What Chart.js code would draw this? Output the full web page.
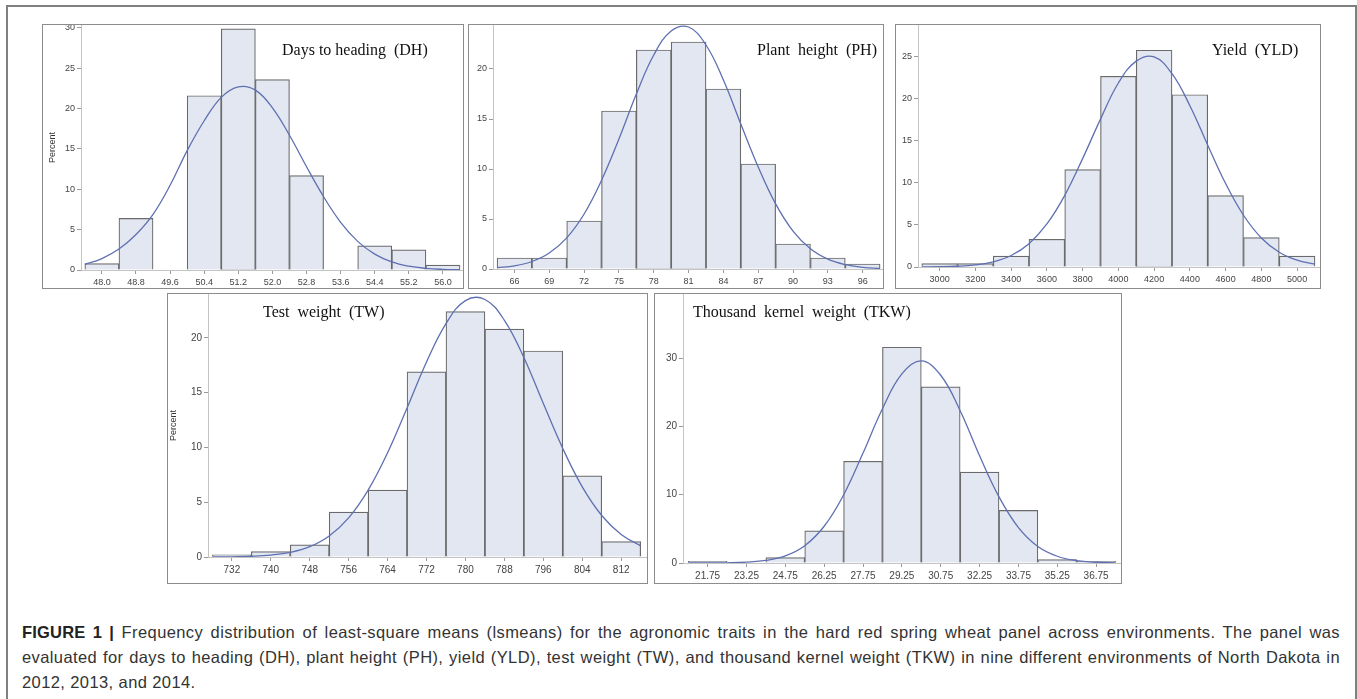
<!DOCTYPE html>
<html>
<head>
<meta charset="utf-8">
<script src="https://cdn.jsdelivr.net/npm/chart.js@4.4.0/dist/chart.umd.min.js"></script>
<style>
  body { margin: 0; width: 1357px; height: 699px; overflow: hidden; position: relative; background: #fff; font-family: "Liberation Sans", Arial, sans-serif; }
  #frame { position: absolute; left: 6px; top: 5px; width: 1351px; height: 800px; border: 2px solid #808080; box-sizing: border-box; }
  .panel { position: absolute; border: 1px solid #8c8c8c; box-sizing: border-box; background: #fff; }
  .panel canvas { display: block; }
  .ptitle { position: absolute; font-family: "Liberation Serif", "Times New Roman", serif; font-size: 16px; line-height: 16px; color: #111; white-space: pre; }
  #caption { position: absolute; left: 22px; top: 620px; width: 1318px; font-size: 16.5px; letter-spacing: 0.4px; line-height: 25px; color: #333; }
  #caption .jl { text-align: justify; text-align-last: justify; white-space: nowrap; }
  #caption b { color: #222; letter-spacing: 0.2px; }
</style>
</head>
<body>
<div id="frame"></div>
<div class="panel" id="dh"></div>
<div class="panel" id="ph"></div>
<div class="panel" id="yld"></div>
<div class="panel" id="tw"></div>
<div class="panel" id="tkw"></div>
<div id="caption">
  <div class="jl"><b>FIGURE 1 |</b> Frequency distribution of least-square means (lsmeans) for the agronomic traits in the hard red spring wheat panel across environments. The panel was</div>
  <div class="jl">evaluated for days to heading (DH), plant height (PH), yield (YLD), test weight (TW), and thousand kernel weight (TKW) in nine different environments of North Dakota in</div>
  <div>2012, 2013, and 2014.</div>
</div>
<script>
// Days to heading (DH)
const dhBins = ['48.0', '48.8', '49.6', '50.4', '51.2', '52.0', '52.8', '53.6', '54.4', '55.2', '56.0'];
const dhPercent = [0.8, 6.4, 0, 21.6, 29.9, 23.6, 11.7, 0, 3.0, 2.5, 0.6];
const dhCurve = [0.69, 1.42, 2.6, 4.4, 6.9, 10.5, 14.8, 18.5, 21.4, 22.7, 22.3, 20.1, 16.7, 12.8, 9.08, 5.91, 3.55, 1.97, 1.0, 0.47, 0.2, 0.08, 0.03];
const dhYTicks = [0, 5, 10, 15, 20, 25, 30];

// Plant height (PH)
const phBins = ['66', '69', '72', '75', '78', '81', '84', '87', '90', '93', '96'];
const phPercent = [1.1, 1.1, 4.8, 15.8, 21.9, 22.7, 18.0, 10.5, 2.5, 1.1, 0.5];
const phCurve = [0.13, 0.32, 0.75, 1.6, 3.11, 5.5, 8.87, 13.0, 17.5, 21.4, 23.8, 24.2, 22.4, 18.9, 14.5, 10.2, 6.51, 3.79, 2.02, 0.98, 0.43, 0.17, 0.06];
const phYTicks = [0, 5, 10, 15, 20];

// Yield (YLD)
const yldBins = ['3000', '3200', '3400', '3600', '3800', '4000', '4200', '4400', '4600', '4800', '5000'];
const yldPercent = [0.4, 0.4, 1.3, 3.3, 11.6, 22.7, 25.8, 20.5, 8.5, 3.5, 1.3];
const yldCurve = [0.01, 0.03, 0.09, 0.25, 0.61, 1.37, 2.78, 5.12, 8.53, 12.9, 17.6, 21.9, 24.5, 25.0, 23.0, 19.2, 14.5, 9.93, 6.16, 3.46, 1.76, 0.81, 0.34];
const yldYTicks = [0, 5, 10, 15, 20, 25];

// Test weight (TW)
const twBins = ['732', '740', '748', '756', '764', '772', '780', '788', '796', '804', '812'];
const twPercent = [0.2, 0.5, 1.1, 4.1, 6.1, 16.9, 22.4, 20.8, 18.8, 7.4, 1.4];
const twCurve = [0.01, 0.02, 0.07, 0.18, 0.42, 0.94, 1.92, 3.57, 6.1, 9.51, 13.6, 17.8, 21.3, 23.4, 23.5, 21.6, 18.2, 14.0, 9.9, 6.4, 3.79, 2.05, 1.02];
const twYTicks = [0, 5, 10, 15, 20];

// Thousand kernel weight (TKW)
const tkwBins = ['21.75', '23.25', '24.75', '26.25', '27.75', '29.25', '30.75', '32.25', '33.75', '35.25', '36.75'];
const tkwPercent = [0.25, 0, 0.8, 4.7, 14.9, 31.6, 25.8, 13.3, 7.7, 0.5, 0.25];
const tkwCurve = [0, 0.01, 0.03, 0.12, 0.37, 1.04, 2.53, 5.38, 9.97, 16.1, 22.6, 27.7, 29.6, 27.5, 22.3, 15.7, 9.68, 5.19, 2.42, 0.99, 0.35, 0.11, 0.03];
const tkwYTicks = [0, 10, 20, 30];

Chart.defaults.font.family = '"Liberation Sans", Arial, sans-serif';

// box = [left, top, width, height] on the page; yW/xH = axis sizes inside the box
const panels = [
  { id: 'dh', box: [42, 24, 422, 265], bins: dhBins, pct: dhPercent, curve: dhCurve, yTicks: dhYTicks, binW: 0.8,
    xMin: 47.51, xMax: 56.47, yMax: 30.37, yW: 38, xH: 18, font: 9, percent: true, titlePad: 4,
    title: 'Days to heading  (DH)', tx: 282, ty: 50 },
  { id: 'ph', box: [468, 24, 416, 265], bins: phBins, pct: phPercent, curve: phCurve, yTicks: phYTicks, binW: 3,
    xMin: 64.15, xMax: 97.75, yMax: 24.4, yW: 24, xH: 19, font: 9, percent: false,
    title: 'Plant  height  (PH)', tx: 757, ty: 50 },
  { id: 'yld', box: [895, 24, 426, 265], bins: yldBins, pct: yldPercent, curve: yldCurve, yTicks: yldYTicks, binW: 200,
    xMin: 2879, xMax: 5128, yMax: 28.8, yW: 22, xH: 21, font: 9, percent: false,
    title: 'Yield  (YLD)', tx: 1212, ty: 50 },
  { id: 'tw', box: [167, 293, 481, 291], bins: twBins, pct: twPercent, curve: twCurve, yTicks: twYTicks, binW: 8,
    xMin: 727.1, xMax: 817.3, yMax: 24.0, yW: 40, xH: 26, font: 10, percent: true, titlePad: 0,
    title: 'Test  weight  (TW)', tx: 263, ty: 312 },
  { id: 'tkw', box: [654, 293, 468, 291], bins: tkwBins, pct: tkwPercent, curve: tkwCurve, yTicks: tkwYTicks, binW: 1.5,
    xMin: 20.8, xMax: 37.71, yMax: 39.4, yW: 28, xH: 20, font: 10, percent: false,
    title: 'Thousand  kernel  weight  (TKW)', tx: 693, ty: 312 }
];

function drawPanel(p) {
  const wrap = document.getElementById(p.id);
  const [left, top, w, h] = p.box;
  wrap.style.left = left + 'px';
  wrap.style.top = top + 'px';
  wrap.style.width = w + 'px';
  wrap.style.height = h + 'px';

  const canvas = document.createElement('canvas');
  canvas.width = w - 2;
  canvas.height = h - 2;
  wrap.appendChild(canvas);

  const title = document.createElement('div');
  title.className = 'ptitle';
  title.textContent = p.title;
  title.style.left = p.tx + 'px';
  title.style.top = (p.ty - 8) + 'px';
  document.body.appendChild(title);

  const half = p.binW / 2;
  const first = Number(p.bins[0]) - half;
  const curvePts = p.curve.map((v, i) => ({ x: first + i * half, y: v }));
  const barPts = p.bins.map((b, i) => ({ x: Number(b), y: p.pct[i] }));

  const tickFont = { size: p.font };
  const grid = { display: true, drawOnChartArea: false, drawTicks: true, tickLength: 4, color: '#9a9a9a', offset: false };
  const border = { display: true, color: '#c4c4c4', width: 1 };

  new Chart(canvas, {
    type: 'bar',
    data: {
      datasets: [
        { type: 'line', data: curvePts, borderColor: '#5f70b2', borderWidth: 1.3, pointRadius: 0, tension: 0.4, fill: false, order: 0 },
        { type: 'bar', data: barPts, backgroundColor: '#e2e7f1', borderColor: '#6a6a6a', borderWidth: 1.2,
          barPercentage: 1, categoryPercentage: 1, order: 1 }
      ]
    },
    options: {
      responsive: false,
      animation: false,
      devicePixelRatio: 1,
      layout: { padding: 0 },
      plugins: { legend: { display: false }, tooltip: { enabled: false } },
      scales: {
        x: {
          type: 'linear', offset: false, min: p.xMin, max: p.xMax,
          afterBuildTicks: a => { a.ticks = p.bins.map(b => ({ value: Number(b) })); },
          afterFit: a => { a.height = p.xH; a.paddingLeft = 0; a.paddingRight = 0; },
          ticks: { callback: (v, i) => p.bins[i], autoSkip: false, maxRotation: 0, padding: 3, color: '#444', font: tickFont },
          grid: grid, border: border
        },
        y: {
          min: 0, max: p.yMax,
          afterBuildTicks: a => { a.ticks = p.yTicks.map(v => ({ value: v })); },
          afterFit: a => { a.width = p.yW; a.paddingTop = 0; a.paddingBottom = 0; },
          ticks: { padding: 2, color: '#444', font: tickFont },
          grid: grid, border: border,
          title: { display: p.percent, text: 'Percent', color: '#333', font: { size: 9 }, padding: { top: p.titlePad || 0, bottom: 0 } }
        }
      }
    }
  });
}

panels.forEach(drawPanel);
</script>
</body>
</html>
